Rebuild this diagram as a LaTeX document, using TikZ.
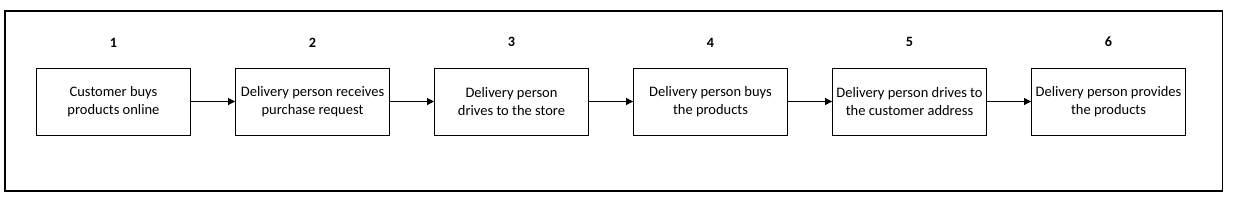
\documentclass[tikz,border=0pt]{standalone}
\usepackage{fontspec}
\setmainfont{Carlito}
\usetikzlibrary{arrows.meta,positioning}
\tikzset{
  arr/.style={-{Triangle[length=7pt,width=7pt]}, line width=0.9pt},
  stepbox/.style={draw, line width=0.9pt, minimum width=154pt, minimum height=67pt,
    align=center, inner sep=2pt, font=\fontsize{14.5}{17.5}\selectfont},
  num/.style={font=\fontsize{14.2}{17}\selectfont\bfseries},
  frame/.style={draw, line width=1.8pt}
}
\begin{document}
\begin{tikzpicture}[x=1pt,y=-1pt]
  \useasboundingbox (0,0) rectangle (1233,201);
  \draw[frame] (5,11) rectangle (1222.5,191);
  % steps
  \node[stepbox] (s1) at (113.5,101.5) {Customer buys\\products online};
  \node[stepbox,right=44.1pt of s1] (s2) {Delivery person receives\\purchase request};
  \node[stepbox,right=44.1pt of s2] (s3) {Delivery person\\drives to the store};
  \node[stepbox,right=44.1pt of s3] (s4) {Delivery person buys\\the products};
  \node[stepbox,right=44.1pt of s4] (s5) {Delivery person drives to\\the customer address};
  \node[stepbox,right=44.1pt of s5] (s6) {Delivery person provides\\the products};
  % numbers
  \node[num,above=17pt of s1] (n1) {1};
  \node[num,above=17pt of s2] (n2) {2};
  \node[num,above=17pt of s3] (n3) {3};
  \node[num,above=17pt of s4] (n4) {4};
  \node[num,above=17pt of s5] (n5) {5};
  \node[num,above=17pt of s6] (n6) {6};
  % arrows
  \draw[arr] (s1) -- (s2);
  \draw[arr] (s2) -- (s3);
  \draw[arr] (s3) -- (s4);
  \draw[arr] (s4) -- (s5);
  \draw[arr] (s5) -- (s6);
\end{tikzpicture}
\end{document}
